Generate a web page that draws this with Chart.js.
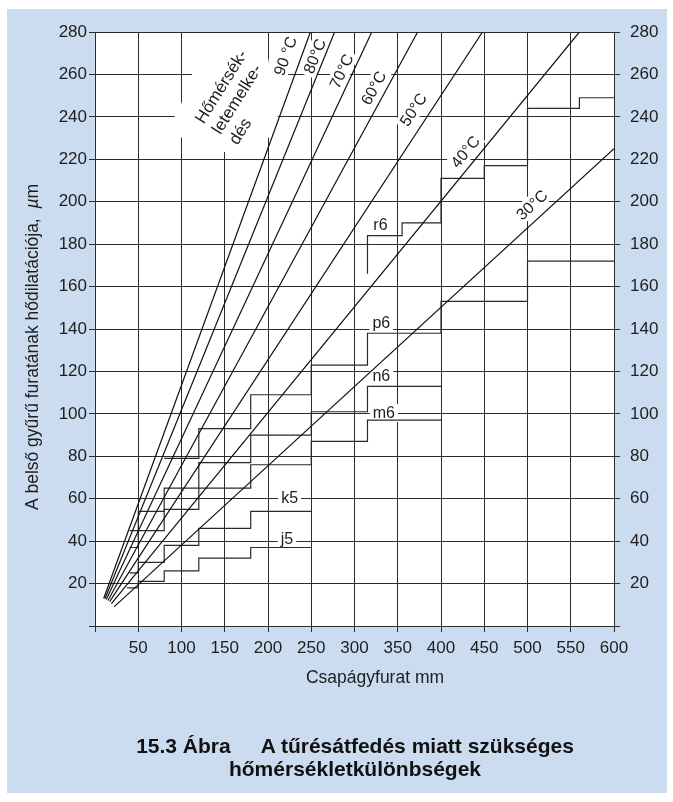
<!DOCTYPE html>
<html>
<head>
<meta charset="utf-8">
<script src="https://cdn.jsdelivr.net/npm/chart.js@4.4.1/dist/chart.umd.min.js"></script>
<style>
  html, body { margin: 0; padding: 0; background: #fff; }
  body { width: 673px; height: 802px; position: relative; overflow: hidden; font-family: "Liberation Sans", Arial, sans-serif; }
  .frame { position: absolute; left: 7px; top: 9px; width: 660px; height: 784px; background: #cbdcf0; }
  #wrap { position: absolute; left: 0; top: 0; width: 673px; height: 802px; }
  .caption { position: absolute; left: 0; width: 710px; top: 734px; text-align: center;
             font-weight: bold; font-size: 21px; line-height: 23px; color: #111; }
  .caption span { margin-left: 30px; }
</style>
</head>
<body>
<div class="frame"></div>
<div id="wrap"><canvas id="chart" width="673" height="802"></canvas></div>
<div class="caption">15.3 Ábra<span>A tűrésátfedés miatt szükséges</span><br>hőmérsékletkülönbségek</div>

<script>
// Temperature lines (start / end points)
const tempNames  = ['30°C', '40°C', '50°C', '60°C', '70°C', '80°C', '90 °C'];
const tempStartX = [22, 19, 17, 15, 13, 11.5, 10];
const tempStartY = [9, 10.5, 11.5, 12, 12.5, 12.8, 13];
const tempEndX   = [600, 560, 448, 373, 320, 277, 249];
const tempEndY   = [225, 280, 280, 280, 280, 280, 280];

// Tolerance classes: size range edges (mm) and max. interference (µm)
const j5Edges = [37, 50, 80, 120, 180, 250];
const j5Vals  = [18, 21, 26, 32, 37];
const k5Edges = [40, 50, 80, 120, 180, 250];
const k5Vals  = [25, 30, 38, 46, 54];
const m6Edges = [40, 50, 80, 120, 180, 250, 315, 400];
const m6Vals  = [37, 45, 55, 65, 76, 87, 97];
const n6Edges = [40, 50, 80, 120, 180, 250, 315, 400];
const n6Vals  = [45, 54, 65, 77, 90, 101, 113];
const p6Edges = [80, 120, 180, 250, 315, 400, 500, 600];
const p6Vals  = [79, 93, 109, 123, 138, 153, 172];
const r6Edges = [315, 315, 355, 400, 450, 500, 560, 600];
const r6Vals  = [166, 184, 190, 211, 217, 244, 249];

const classNames = ['j5', 'k5', 'm6', 'n6', 'p6', 'r6'];

// Label positions (data coordinates)
const classLabelPos = [[222, 41], [225, 60.3], [334, 100.4], [331, 118], [331, 143], [330, 189]];
const tempLabelPos  = [[505, 198.5], [428, 223.6], [368, 243.4], [322, 253.6], [285, 261.5], [254, 268.6], [220, 268.7]];
const blockLines = ['Hőmérsék-', 'letemelke-', 'dés'];
const blockPos = [121, 237.5];
// white patch behind the block, pixel offsets from the block anchor
const blockMask = [[-28, 0], [-19, -17], [-7, -50], [12, -94], [62, -94], [68, -67], [78, -5], [70, 15], [24, 30], [-19, 15]];

const FONT = '"Liberation Sans", Arial, sans-serif';
const INK = '#1e1e1e';
const GRID = '#2c2c2c';

function stairPoints(edges, vals) {
  const pts = vals.map((v, i) => ({ x: edges[i], y: v }));
  pts.push({ x: edges[edges.length - 1], y: vals[vals.length - 1] });
  return pts;
}

const datasets = [];
tempNames.forEach((name, i) => {
  datasets.push({
    label: name,
    data: [{ x: tempStartX[i], y: tempStartY[i] }, { x: tempEndX[i], y: tempEndY[i] }],
    showLine: true,
    borderColor: '#111',
    borderWidth: 1.2,
    pointRadius: 0
  });
});
[[j5Edges, j5Vals], [k5Edges, k5Vals], [m6Edges, m6Vals], [n6Edges, n6Vals], [p6Edges, p6Vals], [r6Edges, r6Vals]]
  .forEach(([edges, vals], i) => {
    datasets.push({
      label: classNames[i],
      data: stairPoints(edges, vals),
      showLine: true,
      stepped: 'before', // horizontal run first, then the jump at the range edge
      borderColor: '#2a2a2a',
      borderWidth: 1.2,
      pointRadius: 0
    });
  });

// white plot background
const plotBg = {
  id: 'plotBg',
  beforeDraw(chart) {
    const { ctx, chartArea: a } = chart;
    ctx.save();
    ctx.fillStyle = '#fff';
    ctx.fillRect(a.left, a.top, a.width, a.height);
    ctx.restore();
  }
};

function maskedText(ctx, text, px, py, ang, size) {
  ctx.save();
  ctx.translate(px, py);
  ctx.rotate(ang);
  ctx.font = size + 'px ' + FONT;
  const w = ctx.measureText(text).width;
  ctx.fillStyle = '#fff';
  ctx.fillRect(-w / 2 - 3, -size / 2 - 1, w + 6, size + 2);
  ctx.fillStyle = INK;
  ctx.textAlign = 'center';
  ctx.textBaseline = 'middle';
  ctx.fillText(text, 0, 1);
  ctx.restore();
}

// labels on the plot; white patches hide the grid behind them
const annot = {
  id: 'annot',
  beforeDatasetsDraw(chart) {
    const { ctx, chartArea: a, scales: { x, y } } = chart;
    ctx.save();
    ctx.beginPath();
    ctx.rect(a.left + 1, a.top + 1, a.width - 2, a.height - 2);
    ctx.clip();

    // "Hőmérsék-letemelke-dés" block
    const bx = x.getPixelForValue(blockPos[0]);
    const by = y.getPixelForValue(blockPos[1]);
    ctx.fillStyle = '#fff';
    ctx.beginPath();
    blockMask.forEach(([dx, dy], i) => (i ? ctx.lineTo(bx + dx, by + dy) : ctx.moveTo(bx + dx, by + dy)));
    ctx.closePath();
    ctx.fill();
    ctx.save();
    ctx.translate(bx, by);
    ctx.rotate(-58 * Math.PI / 180);
    ctx.font = '17px ' + FONT;
    ctx.fillStyle = INK;
    ctx.textBaseline = 'middle';
    ctx.textAlign = 'left';
    blockLines.forEach((t, i) => ctx.fillText(t, 0, i * 20));
    ctx.restore();

    // temperature labels, written along their lines
    tempNames.forEach((name, i) => {
      const x0 = x.getPixelForValue(tempStartX[i]), y0 = y.getPixelForValue(tempStartY[i]);
      const x1 = x.getPixelForValue(tempEndX[i]), y1 = y.getPixelForValue(tempEndY[i]);
      const ang = Math.atan2(y1 - y0, x1 - x0);
      maskedText(ctx, name, x.getPixelForValue(tempLabelPos[i][0]), y.getPixelForValue(tempLabelPos[i][1]), ang, 16);
    });

    // tolerance class labels
    classNames.forEach((name, i) => {
      maskedText(ctx, name, x.getPixelForValue(classLabelPos[i][0]), y.getPixelForValue(classLabelPos[i][1]), 0, 16);
    });
    ctx.restore();
  },
  afterDraw(chart) {
    const { ctx } = chart;
    ctx.save();
    ctx.fillStyle = INK;
    // x axis title
    ctx.font = '17.5px ' + FONT;
    ctx.textAlign = 'center';
    ctx.textBaseline = 'middle';
    ctx.fillText('Csapágyfurat mm', 375, 678);

    // y axis title with italic µ
    const part1 = 'A belső gyűrű furatának hődilatációja,  ';
    const normal = '17.5px ' + FONT, italic = 'italic 17.5px ' + FONT;
    ctx.font = normal;
    const w1 = ctx.measureText(part1).width;
    const wm = ctx.measureText('m').width;
    ctx.font = italic;
    const wmu = ctx.measureText('µ').width;
    const total = w1 + wmu + wm;
    ctx.translate(33, 347);
    ctx.rotate(-Math.PI / 2);
    ctx.textAlign = 'left';
    let cx = -total / 2;
    ctx.font = normal;
    ctx.fillText(part1, cx, 0);
    cx += w1;
    ctx.font = italic;
    ctx.fillText('µ', cx, 0);
    cx += wmu;
    ctx.font = normal;
    ctx.fillText('m', cx, 0);
    ctx.restore();
  }
};

Chart.defaults.font.family = FONT;
Chart.defaults.color = INK;

const hideZero = v => (v === 0 ? '' : v);

new Chart(document.getElementById('chart'), {
  type: 'scatter',
  data: { datasets },
  options: {
    responsive: false,
    animation: false,
    events: [],
    layout: { padding: { top: 32, left: 0, right: 0, bottom: 0 } },
    plugins: { legend: { display: false }, tooltip: { enabled: false } },
    scales: {
      x: {
        type: 'linear', min: 0, max: 600,
        ticks: { stepSize: 50, callback: hideZero, font: { size: 17 }, color: INK, padding: 6, maxRotation: 0 },
        grid: { color: GRID, lineWidth: 1, tickLength: 6 },
        border: { color: GRID, width: 1 },
        afterFit(s) { s.height = 176; }
      },
      y: {
        type: 'linear', min: 0, max: 280, position: 'left',
        ticks: { stepSize: 20, callback: hideZero, font: { size: 17 }, color: INK, padding: 2 },
        grid: { color: GRID, lineWidth: 1, tickLength: 6 },
        border: { color: GRID, width: 1 },
        afterFit(s) { s.width = 95; }
      },
      y2: {
        type: 'linear', min: 0, max: 280, position: 'right',
        ticks: { stepSize: 20, callback: hideZero, font: { size: 17 }, color: INK, padding: 10 },
        grid: { drawOnChartArea: false, color: GRID, tickLength: 6 },
        border: { color: GRID, width: 1 },
        afterFit(s) { s.width = 59; }
      }
    }
  },
  plugins: [plotBg, annot]
});
</script>
</body>
</html>
